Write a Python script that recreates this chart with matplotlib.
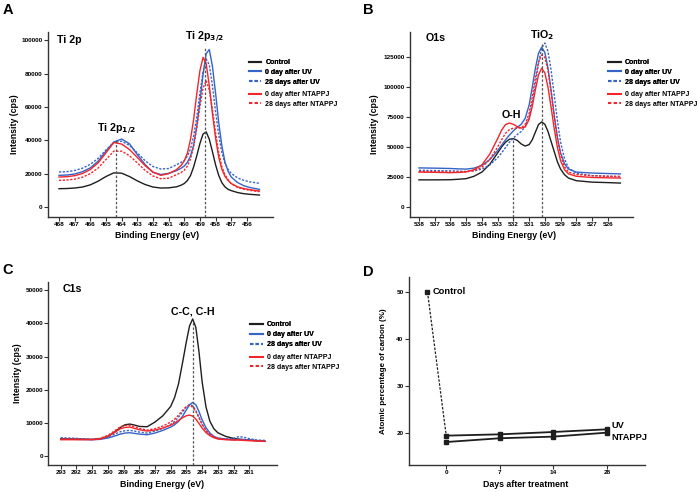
import matplotlib
matplotlib.use("Agg")
import matplotlib.pyplot as plt
from matplotlib.lines import Line2D
from matplotlib.ticker import FuncFormatter

plt.rcParams['font.family'] = ['Liberation Sans', 'DejaVu Sans']
plt.rcParams['font.weight'] = 'bold'

# ---- Panel A : Ti 2p ----
ti_energy = [468, 467.5, 467, 466.5, 466, 465.5, 465, 464.5, 464, 463.5, 463, 462.5, 462, 461.5, 461,
             460.5, 460.2, 460, 459.8, 459.6, 459.4, 459.2, 459, 458.8, 458.6, 458.4, 458.2, 458,
             457.8, 457.6, 457.4, 457.2, 457, 456.6, 456.2, 455.8, 455.2]
ti_control = [11000, 11100, 11400, 12000, 13300, 15500, 18300, 20500, 20300, 18300, 15700, 13500, 12000, 11400, 11500,
              12100, 13100, 14100, 15900, 18900, 24100, 30800, 38100, 43800, 45100, 40600, 33200, 25300,
              19000, 14600, 12100, 10600, 9850, 8700, 8000, 7600, 7200]
ti_uv0 = [19000, 19200, 19800, 21200, 23500, 27500, 33500, 39000, 40800, 38000, 31500, 25500, 20800, 19500, 20200,
          21800, 23300, 24600, 26800, 30600, 37100, 48500, 63000, 79500, 92000, 94500, 84400, 68300,
          50700, 36800, 27000, 21400, 18000, 14700, 12800, 11700, 10600]
ti_uv28 = [21000, 21200, 21900, 23300, 25600, 29200, 34200, 38800, 39500, 37000, 32500, 27800, 24300, 22800, 23100,
           25300, 26800, 28000, 30500, 34900, 42700, 54000, 68400, 81300, 88800, 85300, 72800, 57200,
           43400, 32700, 26300, 22500, 20200, 17500, 16000, 15100, 14200]
ti_nt0 = [18000, 18200, 18800, 20100, 22500, 26500, 32500, 38700, 37800, 34500, 29800, 24800, 21000, 19000, 20000,
          22400, 25000, 27700, 32300, 40600, 52700, 68000, 81800, 89800, 86000, 72700, 56100, 41400,
          29900, 22700, 18400, 15900, 14100, 12100, 11100, 10400, 9600]
ti_nt28 = [16000, 16200, 16700, 17900, 20000, 23400, 28500, 33500, 33500, 30800, 26500, 22000, 18600, 17000, 17300,
           19400, 20700, 22100, 24600, 28800, 36600, 47600, 60400, 71300, 75900, 70300, 58400, 44600,
           32700, 24200, 19400, 16400, 14000, 11800, 10700, 10000, 9200]

# ---- Panel B : O1s ----
o_energy = [538, 537, 536, 535.5, 535, 534.5, 534, 533.5, 533, 532.75, 532.5, 532.25, 532, 531.75, 531.5,
            531.25, 531, 530.8, 530.6, 530.4, 530.2, 530, 529.8, 529.6, 529.4, 529.2, 529, 528.75,
            528.5, 528, 527, 526, 525.2]
o_control = [22500, 22500, 22600, 23000, 23500, 25500, 29000, 35500, 45000, 50000, 54000, 56500, 57000, 55500, 52500,
             50800, 52000, 56000, 62500, 68800, 71000, 69000, 63000, 54500, 46000, 37500, 31500, 26800,
             24000, 21800, 20600, 20200, 19800]
o_uv0 = [32500, 32300, 32000, 31700, 31500, 32300, 34500, 39500, 47000, 51500, 56000, 60000, 63500, 66500, 69000,
         74000, 85000, 100000, 116000, 128500, 133500, 129000, 116000, 97000, 76000, 58000, 45000, 36000,
         31500, 29000, 28200, 27800, 27500]
o_uv28 = [30500, 30300, 30000, 29800, 29500, 30000, 31500, 35000, 41000, 45000, 49500, 54000, 57500, 60500, 63000,
          67000, 75000, 87000, 103000, 120000, 133000, 137000, 130000, 114000, 93000, 72000, 54000, 40000,
          32500, 28000, 26000, 25500, 25000]
o_nt0 = [29000, 28800, 28500, 28700, 29200, 31000, 35000, 44000, 57000, 64000, 68800, 70000, 69000, 67000, 65800,
         66800, 73000, 84000, 98000, 110500, 116000, 112000, 100000, 83000, 65000, 49500, 38500, 31000,
         27500, 25500, 24500, 24200, 24000]
o_nt28 = [29500, 29300, 29000, 29000, 29200, 30200, 33000, 39500, 50000, 56000, 61500, 64500, 65800, 65800, 66000,
          69000, 78000, 92000, 108000, 121000, 127000, 125000, 114000, 96000, 75000, 57000, 43000, 33500,
          29000, 27000, 26000, 25500, 25500]

# ---- Panel C : C1s ----
c_energy = [293, 292, 291, 290.5, 290, 289.5, 289.2, 288.9, 288.6, 288.3, 288, 287.5, 287, 286.5, 286,
            285.75, 285.5, 285.25, 285, 284.8, 284.6, 284.4, 284.2, 284, 283.75, 283.5, 283.25, 283,
            282.5, 282, 281.7, 281.4, 281, 280.5, 280]
c_control = [5300, 5200, 5100, 5300, 6000, 7500, 8700, 9500, 9700, 9400, 9000, 8900, 10300, 12200, 15000,
             17700, 21800, 28000, 34500, 39200, 41300, 38800, 31500, 22500, 14800, 10500, 8300, 7100,
             6000, 5400, 5200, 5000, 4900, 4700, 4500]
c_uv0 = [5200, 5100, 5000, 5100, 5500, 6200, 6700, 7000, 7100, 6900, 6700, 6500, 7000, 7800, 8800,
         9500, 10500, 12000, 14000, 15500, 16200, 15500, 13500, 11000, 8600, 7000, 6000, 5500,
         5200, 5000, 5100, 5100, 4900, 4700, 4600]
c_uv28 = [5600, 5400, 5100, 5300, 5800, 6800, 7400, 7700, 7800, 7600, 7300, 7000, 7600, 8400, 9600,
          10500, 11800, 13300, 14900, 15600, 15200, 13800, 11800, 9600, 7700, 6500, 5800, 5400,
          5200, 5400, 5900, 5800, 5300, 4900, 4800]
c_nt0 = [5000, 5000, 5000, 5200, 6000, 7400, 8300, 8700, 8800, 8400, 8000, 7600, 7900, 8500, 9400,
         10000, 10800, 11600, 12200, 12400, 12100, 11200, 9900, 8500, 7100, 6200, 5600, 5200,
         5000, 4900, 4900, 4800, 4700, 4600, 4500]
c_nt28 = [5300, 5200, 5100, 5400, 6300, 7900, 8900, 9300, 9300, 8900, 8400, 7900, 8300, 9100, 10300,
          11200, 12400, 13800, 15000, 15300, 14800, 13500, 11600, 9700, 7800, 6600, 5900, 5400,
          5100, 5000, 5000, 4900, 4800, 4700, 4600]

# ---- Panel D : carbon % ----
days = ['0', '7', '14', '28']
carbon_uv = [19.36, 19.64, 20.14, 20.71]
carbon_ntappj = [18.0, 18.8, 19.15, 20.0]
carbon_control = 50.0

labels = ['Control', '0 day after UV', '28 days after UV', '0 day after NTAPPJ', '28 days after NTAPPJ']
BLACK = '#1e1e1e'
BLUE = '#3563c6'
RED = '#f2252b'
DOT = (0, (1.6, 1.1))
styles = [(BLACK, '-'), (BLUE, '-'), (BLUE, DOT), (RED, '-'), (RED, DOT)]

TICK_FS = 4.6
LABEL_FS = 6.3


def style_axes(ax):
    for s in ['top', 'right']:
        ax.spines[s].set_visible(False)
    for s in ['left', 'bottom']:
        ax.spines[s].set_linewidth(1.0)
        ax.spines[s].set_color('#333333')
    ax.tick_params(length=2.8, width=0.8, pad=1.0, labelsize=TICK_FS, colors='#333333', labelcolor='black')


def plot_spectra(ax, energy, series, xticks, xlim, ylim, yticks):
    for ys, (c, ls) in zip(series, styles):
        ax.plot(energy, ys, color=c, linestyle=ls, lw=1.0, solid_joinstyle='round')
    ax.set_xlim(*xlim)
    ax.set_ylim(*ylim)
    ax.set_xticks(xticks)
    ax.set_yticks(yticks)
    ax.yaxis.set_major_formatter(FuncFormatter(lambda v, _: f'{int(v)}'))
    ax.set_xlabel('Binding Energy (eV)', fontsize=LABEL_FS, fontweight='bold')
    ax.set_ylabel('Intensity (cps)', fontsize=LABEL_FS, fontweight='bold')
    style_axes(ax)


def add_legend(fig, x, y_top1, y_top2):
    handles = [Line2D([], [], color=c, linestyle=ls, lw=1.5) for c, ls in styles]
    kw = dict(loc='upper left', frameon=False, handlelength=1.8, handletextpad=0.6,
              labelspacing=0.42, borderpad=0, borderaxespad=0, bbox_transform=fig.transFigure,
              prop={'weight': 'bold', 'size': 5})
    leg1 = fig.legend(handles[:3], labels[:3], bbox_to_anchor=(x, y_top1), **kw)
    fig.legend(handles[3:], labels[3:], bbox_to_anchor=(x, y_top2), **kw)
    fig.add_artist(leg1)


def vline(ax, x, top, bottom):
    ax.plot([x, x], [bottom, top], color='#555555', linestyle=(0, (2, 1.5)), lw=0.9)


fig = plt.figure(figsize=(6.97, 4.92), dpi=100)

# A
axA = fig.add_axes([0.0689, 0.5589, 0.3224, 0.3760])
plot_spectra(axA, ti_energy, [ti_control, ti_uv0, ti_uv28, ti_nt0, ti_nt28],
             list(range(468, 455, -1)), (468.7, 454.35), (-6000, 105000), list(range(0, 100001, 20000)))
vline(axA, 464.35, 41500, -6000)
vline(axA, 458.65, 95500, -6000)
axA.text(468.1, 100200, 'Ti 2p', fontsize=7.7, fontweight='bold', ha='left', va='center')
axA.text(458.7, 101500, 'Ti 2p$_{3/2}$', fontsize=7.7, fontweight='bold', ha='center', va='center')
axA.text(464.35, 46500, 'Ti 2p$_{1/2}$', fontsize=7.7, fontweight='bold', ha='center', va='center')
axA.xaxis.set_label_coords(0.487, -0.076)
axA.yaxis.set_label_coords(-0.129, 0.5)
add_legend(fig, 0.357, 1 - 59 / 492, 1 - 91 / 492)

# B
axB = fig.add_axes([0.5882, 0.5589, 0.3195, 0.3760])
plot_spectra(axB, o_energy, [o_control, o_uv0, o_uv28, o_nt0, o_nt28],
             list(range(538, 525, -1)), (538.57, 524.42), (-8600, 146200), list(range(0, 125001, 25000)))
vline(axB, 532.05, 57000, -8600)
vline(axB, 530.2, 136000, -8600)
axB.text(537.6, 141000, 'O1s', fontsize=7.7, fontweight='bold', ha='left', va='center')
axB.text(530.2, 144000, 'TiO$_2$', fontsize=7.7, fontweight='bold', ha='center', va='center')
axB.text(532.1, 77000, 'O-H', fontsize=7.7, fontweight='bold', ha='center', va='center')
axB.xaxis.set_label_coords(0.467, -0.076)
axB.yaxis.set_label_coords(-0.139, 0.5)
add_legend(fig, 0.873, 1 - 59 / 492, 1 - 91 / 492)

# C
axC = fig.add_axes([0.0693, 0.0549, 0.3277, 0.3725])
plot_spectra(axC, c_energy, [c_control, c_uv0, c_uv28, c_nt0, c_nt28],
             list(range(293, 280, -1)), (293.79, 279.25), (-2600, 52500), list(range(0, 50001, 10000)))
vline(axC, 284.6, 41000, -2600)
axC.text(292.9, 50300, 'C1s', fontsize=7.7, fontweight='bold', ha='left', va='center')
axC.text(284.6, 43500, 'C-C, C-H', fontsize=7.7, fontweight='bold', ha='center', va='center')
axC.xaxis.set_label_coords(0.498, -0.082)
axC.yaxis.set_label_coords(-0.114, 0.5)
add_legend(fig, 0.359, 1 - 321.5 / 492, 1 - 354 / 492)

# D
axD = fig.add_axes([0.5864, 0.0549, 0.3390, 0.3821])
pos = list(range(len(days)))
ctrl_pos = -0.35
axD.plot([ctrl_pos, pos[0]], [carbon_control, carbon_uv[0]], color=BLACK, linestyle=(0, (2, 1.2)), lw=0.9)
axD.plot([ctrl_pos], [carbon_control], marker='s', ms=2.5, color=BLACK, linestyle='none')
axD.plot(pos, carbon_uv, color=BLACK, lw=1.3, marker='s', ms=2.5)
axD.plot(pos, carbon_ntappj, color=BLACK, lw=1.3, marker='s', ms=2.5)
axD.set_xlim(-0.70, 3.71)
axD.set_ylim(13.1, 53.2)
axD.set_xticks(pos)
axD.set_xticklabels(days)
axD.set_yticks([20, 30, 40, 50])
axD.text(ctrl_pos + 0.09, carbon_control, 'Control', fontsize=6.7, fontweight='bold', ha='left', va='center')
axD.text(3.08, 21.6, 'UV', fontsize=6.7, fontweight='bold', ha='left', va='center')
axD.text(3.08, 18.9, 'NTAPPJ', fontsize=6.7, fontweight='bold', ha='left', va='center')
axD.set_xlabel('Days after treatment', fontsize=LABEL_FS, fontweight='bold')
axD.set_ylabel('Atomic percentage of carbon (%)', fontsize=5.8, fontweight='bold')
axD.xaxis.set_label_coords(0.496, -0.080)
axD.yaxis.set_label_coords(-0.092, 0.5)
style_axes(axD)

# panel letters
for letter, x, y in [('A', 2.7, 3.3), ('B', 363.3, 3.3), ('C', 2.7, 263.3), ('D', 363.3, 265)]:
    fig.text(x / 697, 1 - y / 492, letter, fontsize=10.5, fontweight='bold', ha='left', va='top')

fig.savefig('out.png', dpi=100)
